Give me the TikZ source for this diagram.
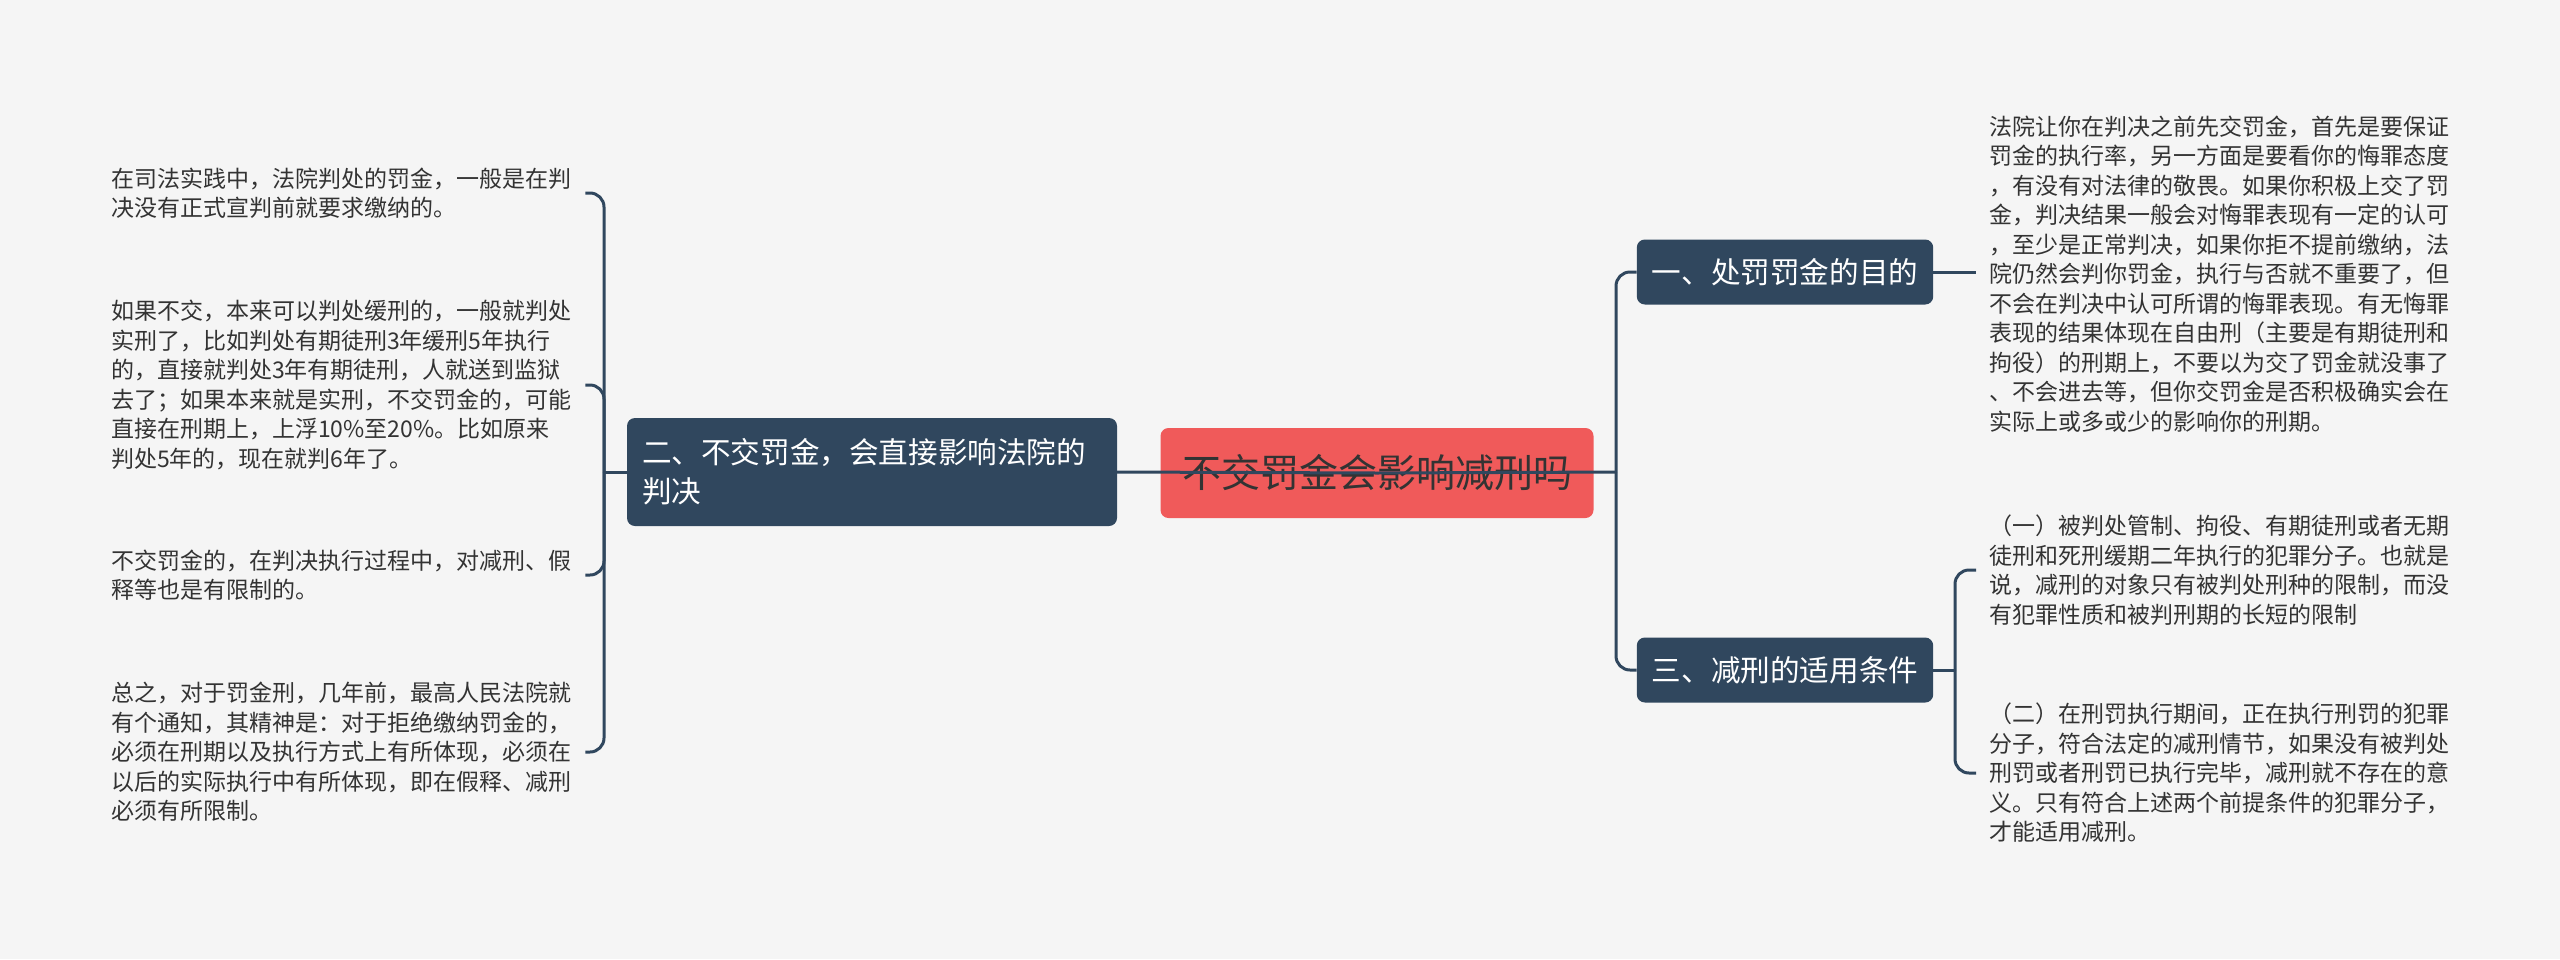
\documentclass[tikz,border=0pt]{standalone}
\usepackage{fontspec}
\newfontfamily\cjk{Noto Sans CJK SC}
\usetikzlibrary{positioning}
\definecolor{nodeblue}{HTML}{30475E}
\definecolor{rootred}{HTML}{F05A5A}
\definecolor{bggray}{HTML}{F5F5F5}
\definecolor{textgray}{HTML}{333333}

\begin{document}
\begin{tikzpicture}[x=1pt, y=-1pt,
	rootbox/.style={fill=rootred, rounded corners=8pt, minimum width=433pt, minimum height=90pt, text=textgray, font=\cjk\fontsize{39}{46}\selectfont},
	branchbox/.style={fill=nodeblue, rounded corners=8pt, text=white, minimum height=65pt, inner xsep=15pt, font=\cjk\fontsize{29.6}{39}\selectfont},
	leaftext/.style={inner sep=0pt, align=left, text=textgray, font=\cjk\fontsize{23}{29.5}\selectfont},
	link/.style={draw=nodeblue, line width=3pt, rounded corners=14pt}]
	
	% Background
	\fill[bggray] (0,0) rectangle (2560,959);
	\useasboundingbox (0,0) rectangle (2560,959);
	
	% Main nodes
	\node[rootbox] (root) at (1377,473) {不交罚金会影响减刑吗};
	\node[branchbox, text width=460pt, align=left, minimum height=108pt] (b2) at (872,472) {二、不交罚金，会直接影响法院的\\判决};
	\node[branchbox, minimum width=295pt] (b1) at (1785,272) {一、处罚罚金的目的};
	\node[branchbox, minimum width=295pt] (b3) at (1785,670) {三、减刑的适用条件};
	
	% Left leaves
	\node[leaftext, anchor=west] (l1) at (111,193) {在司法实践中，法院判处的罚金，一般是在判\\决没有正式宣判前就要求缴纳的。};
	\node[leaftext, anchor=west] (l2) at (111,385) {如果不交，本来可以判处缓刑的，一般就判处\\实刑了，比如判处有期徒刑3年缓刑5年执行\\的，直接就判处3年有期徒刑，人就送到监狱\\去了；如果本来就是实刑，不交罚金的，可能\\直接在刑期上，上浮10\%至20\%。比如原来\\判处5年的，现在就判6年了。};
	\node[leaftext, anchor=west] (l3) at (111,575) {不交罚金的，在判决执行过程中，对减刑、假\\释等也是有限制的。};
	\node[leaftext, anchor=west] (l4) at (111,752) {总之，对于罚金刑，几年前，最高人民法院就\\有个通知，其精神是：对于拒绝缴纳罚金的，\\必须在刑期以及执行方式上有所体现，必须在\\以后的实际执行中有所体现，即在假释、减刑\\必须有所限制。};
	
	% Right leaves
	\node[leaftext, anchor=west] (r1) at (1989,274) {法院让你在判决之前先交罚金，首先是要保证\\罚金的执行率，另一方面是要看你的悔罪态度\\，有没有对法律的敬畏。如果你积极上交了罚\\金，判决结果一般会对悔罪表现有一定的认可\\，至少是正常判决，如果你拒不提前缴纳，法\\院仍然会判你罚金，执行与否就不重要了，但\\不会在判决中认可所谓的悔罪表现。有无悔罪\\表现的结果体现在自由刑（主要是有期徒刑和\\拘役）的刑期上，不要以为交了罚金就没事了\\、不会进去等，但你交罚金是否积极确实会在\\实际上或多或少的影响你的刑期。};
	\node[leaftext, anchor=west] (r3a) at (1989,570) {（一）被判处管制、拘役、有期徒刑或者无期\\徒刑和死刑缓期二年执行的犯罪分子。也就是\\说，减刑的对象只有被判处刑种的限制，而没\\有犯罪性质和被判刑期的长短的限制};
	\node[leaftext, anchor=west] (r3b) at (1989,773) {（二）在刑罚执行期间，正在执行刑罚的犯罪\\分子，符合法定的减刑情节，如果没有被判处\\刑罚或者刑罚已执行完毕，减刑就不存在的意\\义。只有符合上述两个前提条件的犯罪分子，\\才能适用减刑。};
	
	% Spines
	\coordinate (lspine) at (604,472);
	\coordinate (rspine) at (1616,472);
	\coordinate (rspine2) at (1955,670);
	\coordinate (r1hook) at (1976,272);
	
	% Connectors
	\draw[link] (root.center) -- (b2.east);
	\draw[link] (root.center) -- (rspine);
	\draw[link] (b2.west) -- (lspine);
	\foreach \leaf in {l1,l2,l3,l4}
		\draw[link] (lspine) |- ([xshift=14pt]\leaf.east);
	\foreach \b in {b1,b3}
		\draw[link] (rspine) |- (\b.west);
	\draw[link] (b1.east) -- (r1hook);
	\draw[link] (b3.east) -- (rspine2);
	\foreach \leaf in {r3a,r3b}
		\draw[link] (rspine2) |- ([xshift=-13pt]\leaf.west);
\end{tikzpicture}
\end{document}
